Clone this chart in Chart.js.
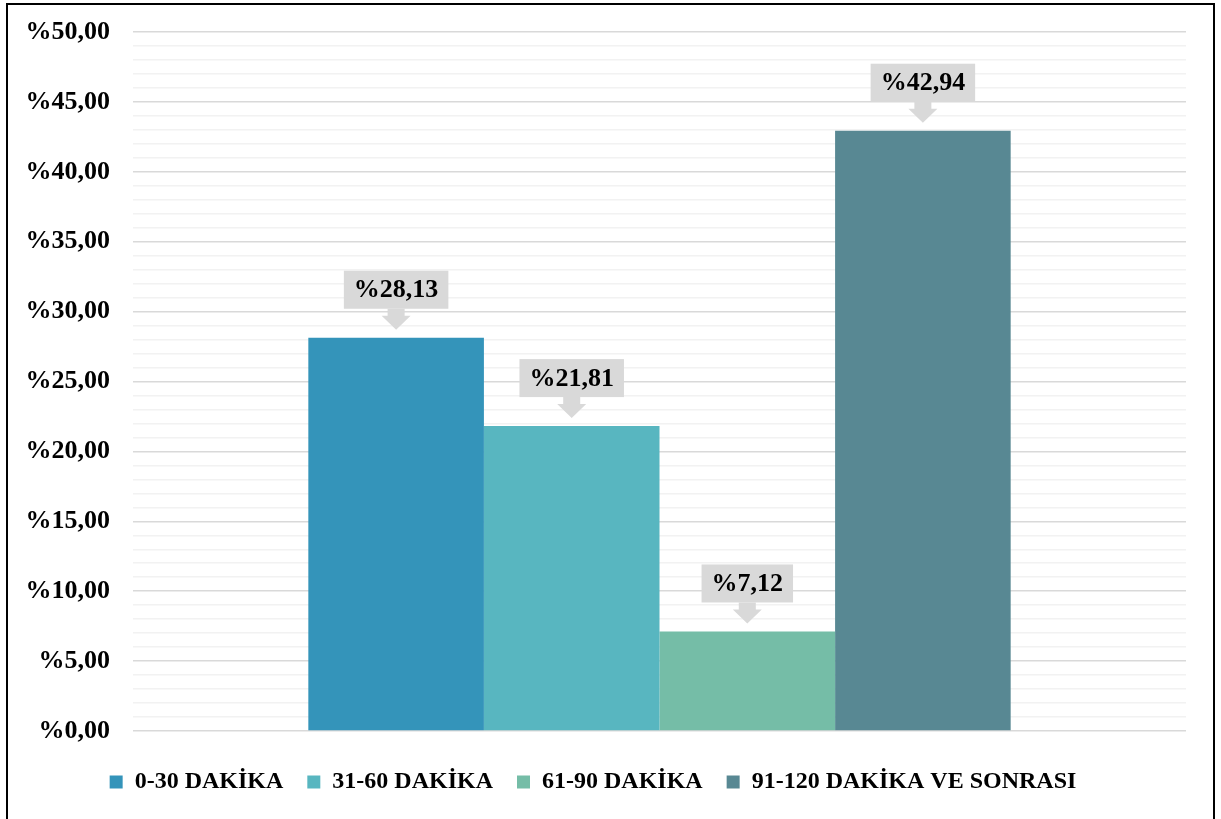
<!DOCTYPE html>
<html lang="tr">
<head>
    <meta charset="UTF-8">
    <title>Dakika Dağılımı</title>
    <script src="https://cdn.jsdelivr.net/npm/chart.js"></script>
    <style>
      html, body { margin: 0; padding: 0; background: #fff; overflow: hidden; }
      #wrap { position: relative; width: 1221px; height: 819px; }
      #frame { position: absolute; left: 6px; top: 3px; width: 1205px; height: 900px; border: 2px solid #000; pointer-events: none; }
    </style>
</head>
<body>
    <div id="wrap">
      <canvas id="dakikaChart" width="1221" height="819"></canvas>
      <div id="frame"></div>
    </div>
    <script>
      // series (one bar each) and their values in percent
      const seriesNames = ['0-30 DAKİKA', '31-60 DAKİKA', '61-90 DAKİKA', '91-120 DAKİKA VE SONRASI'];
      const seriesValues = [28.13, 21.81, 7.12, 42.94];
      const seriesColors = ['#3494ba', '#58b6c0', '#75bda7', '#588893'];
      const categories = [''];
      const yMin = 0, yMax = 50, majorStep = 5;

      const FONT = '"Liberation Serif", "Times New Roman", serif';
      const fmt = v => '%' + v.toFixed(2).replace('.', ',');

      // gray callout boxes with a down arrow above each bar
      const calloutPlugin = {
        id: 'callouts',
        afterDatasetsDraw(chart) {
          const ctx = chart.ctx;
          ctx.save();
          ctx.font = 'bold 26px ' + FONT;
          chart.data.datasets.forEach((ds, i) => {
            const bar = chart.getDatasetMeta(i).data[0];
            const text = fmt(ds.data[0]);
            const tw = ctx.measureText(text).width;
            const w = tw + 20, h = 38;
            const tip = bar.y - 8;
            const boxBottom = tip - 21;
            ctx.fillStyle = '#d9d9d9';
            ctx.fillRect(bar.x - w / 2, boxBottom - h, w, h);
            ctx.beginPath();
            ctx.moveTo(bar.x - 8.5, boxBottom);
            ctx.lineTo(bar.x + 8.5, boxBottom);
            ctx.lineTo(bar.x + 8.5, boxBottom + 7);
            ctx.lineTo(bar.x + 14.5, boxBottom + 7);
            ctx.lineTo(bar.x, tip);
            ctx.lineTo(bar.x - 14.5, boxBottom + 7);
            ctx.lineTo(bar.x - 8.5, boxBottom + 7);
            ctx.closePath();
            ctx.fill();
            ctx.fillStyle = '#000';
            ctx.textAlign = 'center';
            ctx.textBaseline = 'middle';
            ctx.fillText(text, bar.x, boxBottom - h / 2 + 1);
          });
          ctx.restore();
        }
      };

      const ctx = document.getElementById('dakikaChart').getContext('2d');
      new Chart(ctx, {
        type: 'bar',
        data: {
          labels: categories,
          datasets: seriesNames.map((name, i) => ({
            label: name,
            data: [seriesValues[i]],
            backgroundColor: seriesColors[i],
            categoryPercentage: 0.667,
            barPercentage: 1
          }))
        },
        options: {
          responsive: false,
          animation: false,
          layout: { padding: { top: 32, right: 35, bottom: 15, left: 0 } },
          scales: {
            x: {
              grid: { display: false, drawTicks: false },
              border: { display: false },
              ticks: { font: { size: 10 }, padding: 1.5, color: '#fff' }
            },
            y: {
              min: yMin,
              max: yMax,
              afterFit(scale) { scale.width = 133; },
              border: { display: false },
              grid: {
                tickLength: 23,
                tickColor: 'rgba(0,0,0,0)',
                color: c => (c.tick && c.tick.value % majorStep === 0) ? '#d9d9d9' : '#f2f2f2',
                lineWidth: 1.5
              },
              ticks: {
                stepSize: 1,
                autoSkip: false,
                padding: 0,
                color: '#000',
                font: { family: FONT, size: 26, weight: 'bold' },
                callback: v => v % majorStep === 0 ? fmt(v) : ''
              }
            }
          },
          plugins: {
            tooltip: { enabled: false },
            legend: {
              position: 'bottom',
              labels: {
                boxWidth: 13,
                boxHeight: 13,
                padding: 24,
                color: '#000',
                font: { family: FONT, size: 24, weight: 'bold' }
              }
            }
          }
        },
        plugins: [calloutPlugin]
      });
    </script>
</body>
</html>
